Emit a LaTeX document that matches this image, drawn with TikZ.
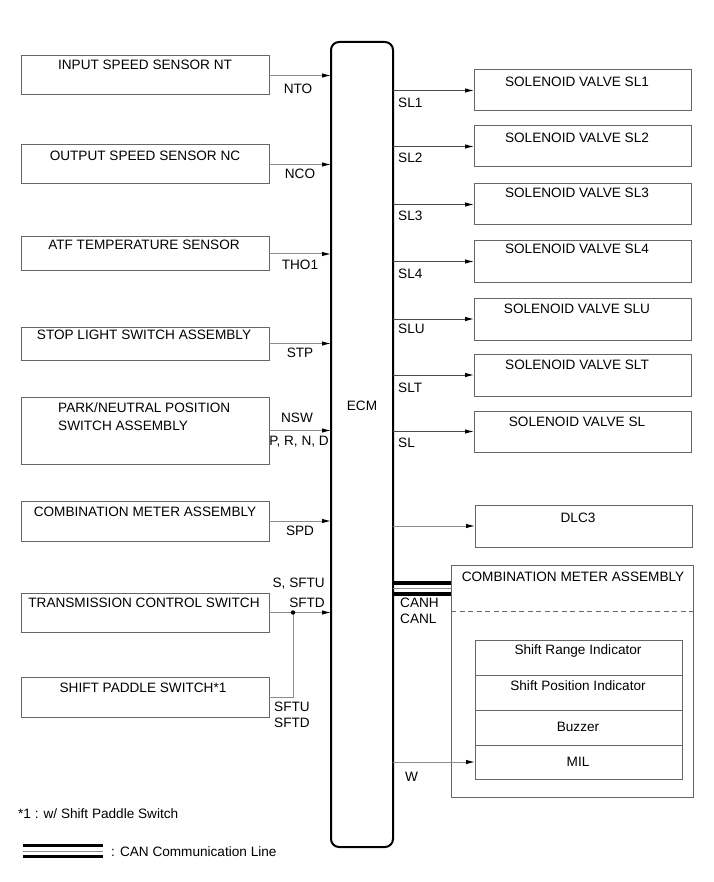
\documentclass[tikz,border=0pt]{standalone}
\usepackage{fontspec}
\setmainfont{Liberation Sans}
\usetikzlibrary{arrows.meta}
\definecolor{boxc}{HTML}{666666}
\definecolor{lconn}{HTML}{8C8C8C}
\definecolor{rconn}{HTML}{4A4A4A}
\tikzset{
  box/.style={draw=boxc, line width=1pt, inner sep=0pt, outer sep=0pt, anchor=north west},
  txt/.style={inner sep=0pt, font=\fontsize{13.6pt}{16pt}\selectfont, text height=9.8pt, text depth=0pt},
  lconnarrow/.style={draw=lconn, line width=1pt, -{Latex[length=9pt,width=4.5pt,color=black]}},
  rconnarrow/.style={draw=rconn, line width=1pt, -{Latex[length=9pt,width=4.5pt,color=black]}},
  plainconn/.style={draw=lconn, line width=1pt},
  canthick/.style={draw=black, line width=3.2pt},
  canthin/.style={draw=lconn, line width=0.8pt},
}
\begin{document}
\begin{tikzpicture}[x=1pt,y=-1pt]
\useasboundingbox[fill=white] (0,0) rectangle (713,882);

% ECM
\node[draw=black, line width=2pt, rounded corners=8pt, inner sep=0pt, outer sep=0pt, anchor=north west, minimum width=62pt, minimum height=805pt] (ecm) at (331,42) {};
\node[txt] (ecmt) at (362,406) {ECM};

% Left boxes
\node[box, minimum width=248pt, minimum height=39pt] (ins) at (21,56) {};
\node[txt] at (145,65) {INPUT SPEED SENSOR NT};
\node[box, minimum width=248pt, minimum height=39pt] (ous) at (21,145) {};
\node[txt] at (145,156) {OUTPUT SPEED SENSOR NC};
\node[box, minimum width=248pt, minimum height=34pt] (atf) at (21,237) {};
\node[txt] at (144,245) {ATF TEMPERATURE SENSOR};
\node[box, minimum width=248pt, minimum height=33pt] (stp) at (21,327) {};
\node[txt] at (144,335) {STOP LIGHT SWITCH ASSEMBLY};
\node[box, minimum width=248pt, minimum height=67pt] (pnp) at (21,397) {};
\node[txt, anchor=west] at (58,408) {PARK/NEUTRAL POSITION};
\node[txt, anchor=west] at (58,426) {SWITCH ASSEMBLY};
\node[box, minimum width=248pt, minimum height=40pt] (cml) at (21,501) {};
\node[txt] at (145,512) {COMBINATION METER ASSEMBLY};
\node[box, minimum width=248pt, minimum height=39pt] (tcs) at (21,593) {};
\node[txt] at (144,603) {TRANSMISSION CONTROL SWITCH};
\node[box, minimum width=248pt, minimum height=40pt] (sps) at (21,677) {};
\node[txt] at (143,688) {SHIFT PADDLE SWITCH*1};

% Left connectors
\draw[lconnarrow] (ins.east) -- (ins.east -| ecm.west);
\draw[lconnarrow] (ous.east) -- (ous.east -| ecm.west);
\draw[lconnarrow] (atf.east) -- (atf.east -| ecm.west);
\draw[lconnarrow] (stp.east) -- (stp.east -| ecm.west);
\draw[lconnarrow] (pnp.east) -- (pnp.east -| ecm.west);
\draw[lconnarrow] (cml.east) -- (cml.east -| ecm.west);
\draw[lconnarrow] (tcs.east) -- (tcs.east -| ecm.west);
\coordinate (jn) at (293,612.5);
\draw[plainconn] (sps.east) -- (sps.east -| jn) -- (jn);
\fill[black] (jn) circle (2.2pt);

% Left labels
\node[txt] at (298,89) {NTO};
\node[txt] at (300,174) {NCO};
\node[txt] at (300,265) {THO1};
\node[txt] at (300,353) {STP};
\node[txt] at (297,418) {NSW};
\node[txt] at (299,441) {P, R, N, D};
\node[txt] at (300,531) {SPD};
\node[txt, anchor=east] at (325,583) {S, SFTU};
\node[txt, anchor=east] at (325,603) {SFTD};
\node[txt, anchor=west] at (274,707) {SFTU};
\node[txt, anchor=west] at (274,723) {SFTD};

% Right boxes
\node[box, minimum width=217pt, minimum height=41pt] (sl1) at (474,70) {};
\node[txt] at (577,82) {SOLENOID VALVE SL1};
\node[box, minimum width=217pt, minimum height=41pt] (sl2) at (474,126) {};
\node[txt] at (577,138) {SOLENOID VALVE SL2};
\node[box, minimum width=217pt, minimum height=41pt] (sl3) at (474,184) {};
\node[txt] at (577,193) {SOLENOID VALVE SL3};
\node[box, minimum width=217pt, minimum height=41pt] (sl4) at (474,241) {};
\node[txt] at (577,249) {SOLENOID VALVE SL4};
\node[box, minimum width=217pt, minimum height=42pt] (slu) at (474,298) {};
\node[txt] at (577,309) {SOLENOID VALVE SLU};
\node[box, minimum width=217pt, minimum height=42pt] (slt) at (474,354) {};
\node[txt] at (577,365) {SOLENOID VALVE SLT};
\node[box, minimum width=217pt, minimum height=41pt] (sl) at (474,411) {};
\node[txt] at (577,422) {SOLENOID VALVE SL};
\node[box, minimum width=217pt, minimum height=42pt] (dlc) at (475,505) {};
\node[txt] at (578,518) {DLC3};

% Right connectors
\draw[rconnarrow] (sl1.west -| ecm.east) -- (sl1.west);
\draw[rconnarrow] (sl2.west -| ecm.east) -- (sl2.west);
\draw[rconnarrow] (sl3.west -| ecm.east) -- (sl3.west);
\draw[rconnarrow] (sl4.west -| ecm.east) -- (sl4.west);
\draw[rconnarrow] (slu.west -| ecm.east) -- (slu.west);
\draw[rconnarrow] (slt.west -| ecm.east) -- (slt.west);
\draw[rconnarrow] (sl.west -| ecm.east) -- (sl.west);
\draw[lconnarrow] (dlc.west -| ecm.east) -- (dlc.west);

% Right labels
\node[txt, anchor=west] at (398,103) {SL1};
\node[txt, anchor=west] at (398,158) {SL2};
\node[txt, anchor=west] at (398,216) {SL3};
\node[txt, anchor=west] at (398,274) {SL4};
\node[txt, anchor=west] at (398,329) {SLU};
\node[txt, anchor=west] at (398,388) {SLT};
\node[txt, anchor=west] at (398,443) {SL};

% Combination meter (right)
\node[box, minimum width=242pt, minimum height=232pt] (cmr) at (451,565) {};
\node[txt] at (573,577) {COMBINATION METER ASSEMBLY};
\draw[draw=boxc, line width=0.8pt, dash pattern=on 5pt off 3.5pt] (cmr.west |- 0,611) -- (cmr.east |- 0,611);
\node[box, minimum width=207pt, minimum height=35pt] (sri) at (475,640) {};
\node[txt] at (578,650) {Shift Range Indicator};
\node[box, minimum width=207pt, minimum height=35pt] (spi) at (475,675) {};
\node[txt] at (578,686) {Shift Position Indicator};
\node[box, minimum width=207pt, minimum height=35pt] (buz) at (475,710) {};
\node[txt] at (578,727) {Buzzer};
\node[box, minimum width=207pt, minimum height=34pt] (mil) at (475,745) {};
\node[txt] at (578,762) {MIL};
\draw[lconnarrow] (mil.west -| ecm.east) -- (mil.west);
\node[txt, anchor=west] at (405,777) {W};

% CAN lines
\coordinate (cana) at (393,583);
\coordinate (canb) at (393,588.5);
\coordinate (canc) at (393,594);
\draw[canthick] (cana) -- (cana -| cmr.west);
\draw[canthin] (canb) -- (canb -| cmr.west);
\draw[canthick] (canc) -- (canc -| cmr.west);
\node[txt, anchor=west] at (400,603) {CANH};
\node[txt, anchor=west] at (400,619) {CANL};

% Footnote and legend
\node[txt, anchor=west] at (18,814) {*1 : w/ Shift Paddle Switch};
\coordinate (lga) at (23,845.5);
\coordinate (lgb) at (23,851);
\coordinate (lgc) at (23,856.5);
\draw[canthick] (lga) -- ++(80,0);
\draw[canthin] (lgb) -- ++(80,0);
\draw[canthick] (lgc) -- ++(80,0);
\node[txt, anchor=west] at (111,852) {: CAN Communication Line};
\end{tikzpicture}
\end{document}
